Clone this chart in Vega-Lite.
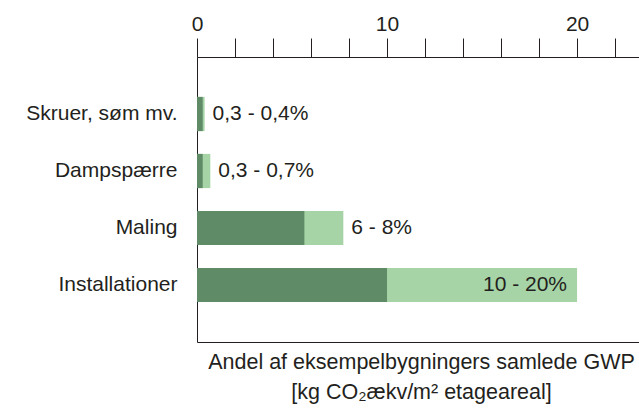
{
  "$schema": "https://vega.github.io/schema/vega-lite/v6.json",
  "width": 442,
  "height": 285,
  "autosize": {"type": "none"},
  "padding": {"left": 197, "top": 57, "right": 0, "bottom": 75},
  "background": "white",
  "config": {
    "view": {"stroke": null},
    "font": "Liberation Sans",
    "axis": {"labelFont": "Liberation Sans", "titleFont": "Liberation Sans", "labelColor": "#231f20", "titleColor": "#231f20", "domainColor": "#231f20", "tickColor": "#231f20", "grid": false}
  },
  "data": {
    "values": [
      {"cat": "Skruer, søm mv.", "low": 0.3, "high": 0.4, "label": "0,3 - 0,4%"},
      {"cat": "Dampspærre", "low": 0.3, "high": 0.7, "label": "0,3 - 0,7%"},
      {"cat": "Maling", "low": 5.65, "high": 7.7, "label": "6 - 8%"},
      {"cat": "Installationer", "low": 10, "high": 20, "label": "10 - 20%"}
    ]
  },
  "encoding": {
    "y": {
      "field": "cat",
      "type": "nominal",
      "sort": null,
      "scale": {"paddingInner": 0.4, "paddingOuter": 0.7},
      "axis": {"title": null, "ticks": false, "labelPadding": 20, "labelFontSize": 21, "domainWidth": 1}
    }
  },
  "layer": [
    {
      "mark": {"type": "bar", "color": "#a6d4a6"},
      "encoding": {
        "x": {
          "field": "high",
          "type": "quantitative",
          "scale": {"domain": [0, 23.26], "nice": false, "zero": true},
          "axis": {
            "orient": "top",
            "title": null,
            "values": [0, 2, 4, 6, 8, 10, 12, 14, 16, 18, 20, 22],
            "labelExpr": "datum.value % 10 === 0 ? datum.label : ''",
            "tickSize": 19,
            "labelPadding": 4,
            "labelFontSize": 21,
            "labelFlush": false,
            "labelOverlap": false
          }
        }
      }
    },
    {
      "mark": {"type": "bar", "color": "#5f8c67"},
      "encoding": {
        "x": {"field": "low", "type": "quantitative", "axis": null}
      }
    },
    {
      "transform": [{"filter": "datum.high < 15"}],
      "mark": {"type": "text", "align": "left", "dx": 8, "fontSize": 21, "color": "#231f20"},
      "encoding": {
        "x": {
          "field": "high",
          "type": "quantitative",
          "axis": {
            "orient": "bottom",
            "title": ["Andel af eksempelbygningers samlede GWP", "[kg CO₂ækv/m² etageareal]"],
            "titleFontSize": 21.5,
            "titleFontWeight": "normal",
            "titleLineHeight": 30,
            "titlePadding": 9,
            "titleX": 224,
            "labels": false,
            "ticks": false,
            "domainWidth": 1
          }
        },
        "text": {"field": "label"}
      }
    },
    {
      "transform": [{"filter": "datum.high >= 15"}],
      "mark": {"type": "text", "align": "right", "dx": -10, "fontSize": 21, "color": "#231f20"},
      "encoding": {
        "x": {"field": "high", "type": "quantitative", "axis": null},
        "text": {"field": "label"}
      }
    }
  ],
  "resolve": {"axis": {"x": "independent"}}
}
